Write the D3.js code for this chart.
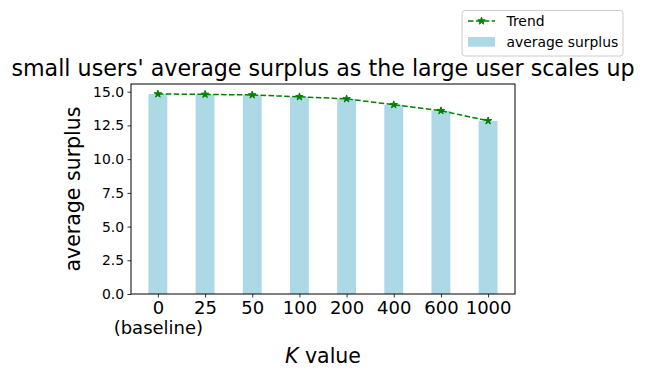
<!DOCTYPE html>
<html>
<head>
<meta charset="utf-8">
<script src="https://cdn.jsdelivr.net/npm/d3@7"></script>
<style>
  body { margin: 0; background: #fff; }
  svg text { font-family: "DejaVu Sans", sans-serif; fill: #000; }
</style>
</head>
<body>
<div id="chart"></div>
<script>
// data
const kLabels = ["0", "25", "50", "100", "200", "400", "600", "1000"];
const surplus = [14.83, 14.8, 14.76, 14.62, 14.47, 14.03, 13.59, 12.84];
const yTicks = [0, 2.5, 5, 7.5, 10, 12.5, 15];

const W = 646, H = 380;
const margin = {top: 84, left: 131};
const width = 515 - margin.left, height = 294 - margin.top;

const svg = d3.select("#chart").append("svg")
  .attr("width", W).attr("height", H);

const g = svg.append("g")
  .attr("transform", "translate(" + margin.left + "," + margin.top + ")");

// x as index scale, like matplotlib bar positions
const x = d3.scaleLinear().domain([-0.57, kLabels.length - 1 + 0.57]).range([0, width]);
const y = d3.scaleLinear().domain([0, 15.57]).range([height, 0]);
const barW = x(0.4) - x(0);

// bars
g.selectAll(".bar")
  .data(surplus)
  .enter().append("rect")
  .attr("class", "bar")
  .attr("x", (d, i) => x(i) - barW / 2)
  .attr("y", d => y(d))
  .attr("width", barW)
  .attr("height", d => height - y(d))
  .style("fill", "#add8e6");

// trend line
const line = d3.line().x((d, i) => x(i)).y(d => y(d));
g.append("path")
  .datum(surplus)
  .attr("d", line)
  .style("fill", "none")
  .style("stroke", "green")
  .style("stroke-width", 1.5)
  .style("stroke-dasharray", "5.5,2.4");

const star = d3.symbol().type(d3.symbolStar).size(17);
g.selectAll(".star")
  .data(surplus)
  .enter().append("path")
  .attr("class", "star")
  .attr("transform", (d, i) => "translate(" + x(i) + "," + y(d) + ")")
  .attr("d", star)
  .style("fill", "green")
  .style("stroke", "green")
  .style("stroke-width", 1);

// axes
const yAxis = g.append("g")
  .call(d3.axisLeft(y).tickValues(yTicks).tickFormat(d3.format(".1f")).tickSize(3.5).tickPadding(3.5));
yAxis.attr("font-family", null).attr("font-size", null);
yAxis.selectAll("text").style("font-size", "13.9px");

const xAxis = g.append("g")
  .attr("transform", "translate(0," + height + ")")
  .call(d3.axisBottom(x).tickValues(d3.range(kLabels.length)).tickFormat(i => kLabels[i]).tickSize(3.5).tickPadding(4));
xAxis.attr("font-family", null).attr("font-size", null);
xAxis.selectAll("text").style("font-size", "18px");
xAxis.select(".tick text").append("tspan")
  .attr("x", 0).attr("dy", "20px").text("(baseline)");

g.selectAll(".domain").remove();
g.selectAll(".tick line").style("stroke", "#000").style("stroke-width", 0.8);
g.append("rect")
  .attr("width", width).attr("height", height)
  .style("fill", "none").style("stroke", "#000").style("stroke-width", 1);

// labels
svg.append("text")
  .attr("x", 323).attr("y", 76)
  .attr("text-anchor", "middle")
  .style("font-size", "22.2px")
  .text("small users' average surplus as the large user scales up");

const xl = svg.append("text")
  .attr("x", margin.left + width / 2).attr("y", 363)
  .attr("text-anchor", "middle")
  .style("font-size", "20.5px");
xl.append("tspan").style("font-style", "italic").text("K");
xl.append("tspan").text(" value");

svg.append("text")
  .attr("transform", "translate(80," + (margin.top + height / 2) + ") rotate(-90)")
  .attr("text-anchor", "middle")
  .style("font-size", "20.5px")
  .text("average surplus");

// legend
const lg = svg.append("g").attr("transform", "translate(462,10.5)");
lg.append("rect")
  .attr("width", 161).attr("height", 45.5).attr("rx", 3)
  .style("fill", "#fff").style("stroke", "#ccc").style("stroke-width", 1);
lg.append("line")
  .attr("x1", 6).attr("x2", 33).attr("y1", 10.5).attr("y2", 10.5)
  .style("stroke", "green").style("stroke-width", 1.5).style("stroke-dasharray", "5.5,2.4");
lg.append("path")
  .attr("transform", "translate(19.5,10.5)").attr("d", star)
  .style("fill", "green").style("stroke", "green").style("stroke-width", 1);
lg.append("rect")
  .attr("x", 6).attr("y", 26.5).attr("width", 27).attr("height", 9.7)
  .style("fill", "#add8e6");
lg.append("text").attr("x", 44.5).attr("y", 15.5).style("font-size", "13.9px").text("Trend");
lg.append("text").attr("x", 44.5).attr("y", 36).style("font-size", "13.9px").text("average surplus");
</script>
</body>
</html>
